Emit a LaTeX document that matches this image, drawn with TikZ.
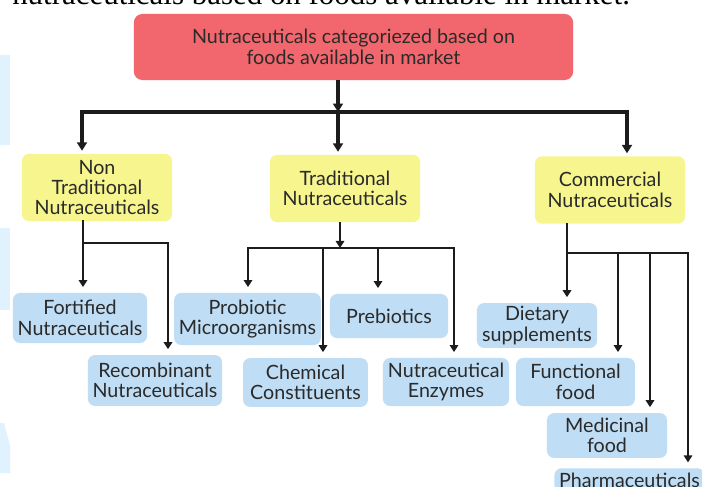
\documentclass[tikz,border=0pt]{standalone}
\usepackage{fontspec}
\setmainfont{Lato}
\newfontfamily\pageserif{Liberation Serif}
\usepackage{tikz}
\usetikzlibrary{arrows.meta}
\usetikzlibrary{calc}
\definecolor{rootcolor}{HTML}{F2676D}
\definecolor{catcolor}{HTML}{F7F58E}
\definecolor{leafcolor}{HTML}{BFDDF4}
\definecolor{linecolor}{HTML}{1C1C1C}
\definecolor{textcolor}{HTML}{2A2A2A}
\definecolor{markcolor}{HTML}{DFF2FD}
\tikzstyle{rootbox} = [rectangle, rounded corners=6pt, 
    minimum width=10.98cm, 
    minimum height=1.65cm, 
    align=center, 
    fill=rootcolor, 
    text=textcolor,
    font=\fontsize{14}{15}\selectfont]
\tikzstyle{catbox} = [rectangle, rounded corners=5pt, 
    minimum width=3.75cm, 
    minimum height=1.68cm, 
    inner ysep=2pt,
    align=center, 
    fill=catcolor, 
    text=textcolor,
    font=\fontsize{14}{14.5}\selectfont]
\tikzstyle{leafbox} = [rectangle, rounded corners=5pt, 
    inner ysep=2pt,
    align=center, 
    fill=leafcolor, 
    text=textcolor,
    font=\fontsize{14}{14.5}\selectfont]
\tikzstyle{bigarrow} = [line width=2.2pt, draw=linecolor, -{Triangle[width=7pt,length=6pt]}, shorten >=2pt]
\tikzstyle{bigbranch} = [line width=2.2pt, draw=linecolor, line cap=rect]
\tikzstyle{arrow} = [line width=1.3pt, draw=linecolor, -{Triangle[width=6pt,length=5pt]}, shorten >=4pt]
\tikzstyle{branch} = [line width=1.3pt, draw=linecolor, line cap=rect]

\begin{document}
\begin{tikzpicture}[x=0.025cm, y=-0.025cm]

\clip (0,0) rectangle (702,486);
\fill [white] (0,0) rectangle (702,486);

% faint marks at the left edge
\fill [markcolor] (0,55) rectangle (10,145);
\fill [markcolor] (0,228) rectangle (10,310);
\fill [markcolor] (0,423) -- (4,423) -- (10,445) -- (10,473) -- (0,473) -- cycle;

\node (pagetext) [anchor=base west, inner sep=0pt, font=\pageserif\fontsize{22}{26}\selectfont] at (12,5) {nutraceuticals based on foods available in market.};

\node (root) [rootbox] at (353.5,47) {Nutraceuticals categoriezed based on\\foods available in market};

\node (nontrad) [catbox] at (97,187.5) {Non\\Traditional\\Nutraceuticals};
\node (trad) [catbox] at (345,188.5) {Traditional\\Nutraceuticals};
\node (comm) [catbox] at (610,190) {Commercial\\Nutraceuticals};

\node (fortified) [leafbox, minimum width=3.35cm, minimum height=1.25cm] at (80,318) {Fortified\\Nutraceuticals};
\node (recomb) [leafbox, minimum width=3.35cm, minimum height=1.27cm] at (155,380.5) {Recombinant\\Nutraceuticals};

\node (probiotic) [leafbox, minimum width=3.52cm, minimum height=1.3cm] at (247.5,319) {Probiotic\\Microorganisms};
\node (prebiotic) [leafbox, minimum width=2.95cm, minimum height=1.1cm] at (389,316) {Prebiotics};
\node (chemical) [leafbox, minimum width=3.12cm, minimum height=1.22cm] at (305.5,382.5) {Chemical\\Constituents};
\node (enzymes) [leafbox, minimum width=3.15cm, minimum height=1.2cm] at (446,382) {Nutraceutical\\Enzymes};

\node (dietary) [leafbox, minimum width=3cm, minimum height=1.12cm] at (537,325.5) {Dietary\\supplements};
\node (functional) [leafbox, minimum width=2.97cm, minimum height=1.2cm] at (575.5,382) {Functional\\food};
\node (medicinal) [leafbox, minimum width=3cm, minimum height=1.12cm] at (607,435.5) {Medicinal\\food};
\node (pharma) [leafbox, minimum width=3.62cm, minimum height=0.6cm, inner ysep=1pt, anchor=north] at (629.5,468) {Pharmaceuticals};

% top level
\coordinate (topjoin) at (338,112);
\coordinate (leftjoin) at (82,112);
\coordinate (rightjoin) at (627,112);
\draw [bigarrow, shorten >=0pt] (root.south -| topjoin) -- (topjoin);
\draw [bigbranch] (leftjoin) -- (rightjoin);
\draw [bigarrow] (leftjoin) -- (leftjoin |- nontrad.north);
\draw [bigarrow] (topjoin) -- (topjoin |- trad.north);
\draw [bigarrow] (rightjoin) -- (rightjoin |- comm.north);

% non traditional
\coordinate (ntsplit) at (83,243);
\coordinate (ntcorner) at (168,243);
\draw [branch] (ntsplit |- nontrad.south) -- (ntsplit) -- (ntcorner);
\draw [arrow] (ntsplit) -- (ntsplit |- fortified.north);
\draw [arrow] (ntcorner) -- (ntcorner |- recomb.north);

% traditional
\coordinate (tdsplit) at (340,248);
\coordinate (tdpro) at (248,248);
\coordinate (tdchem) at (323,248);
\coordinate (tdpre) at (378,248);
\coordinate (tdenz) at (454,248);
\draw [arrow, shorten >=0pt] (tdsplit |- trad.south) -- (tdsplit);
\draw [branch] (tdpro) -- (tdenz);
\draw [arrow] (tdpro) -- (tdpro |- probiotic.north);
\draw [arrow] (tdchem) -- (tdchem |- chemical.north);
\draw [arrow] (tdpre) -- (tdpre |- prebiotic.north);
\draw [arrow] (tdenz) -- (tdenz |- enzymes.north);

% commercial
\coordinate (cmsplit) at (567,253);
\coordinate (cmfun) at (618,253);
\coordinate (cmmed) at (650,253);
\coordinate (cmpha) at (688,253);
\draw [branch] (cmsplit |- comm.south) -- (cmsplit) -- (cmpha);
\draw [arrow] (cmsplit) -- (cmsplit |- dietary.north);
\draw [arrow] (cmfun) -- (cmfun |- functional.north);
\draw [arrow] (cmmed) -- (cmmed |- medicinal.north);
\draw [arrow] (cmpha) -- (cmpha |- pharma.north);

\end{tikzpicture}
\end{document}
